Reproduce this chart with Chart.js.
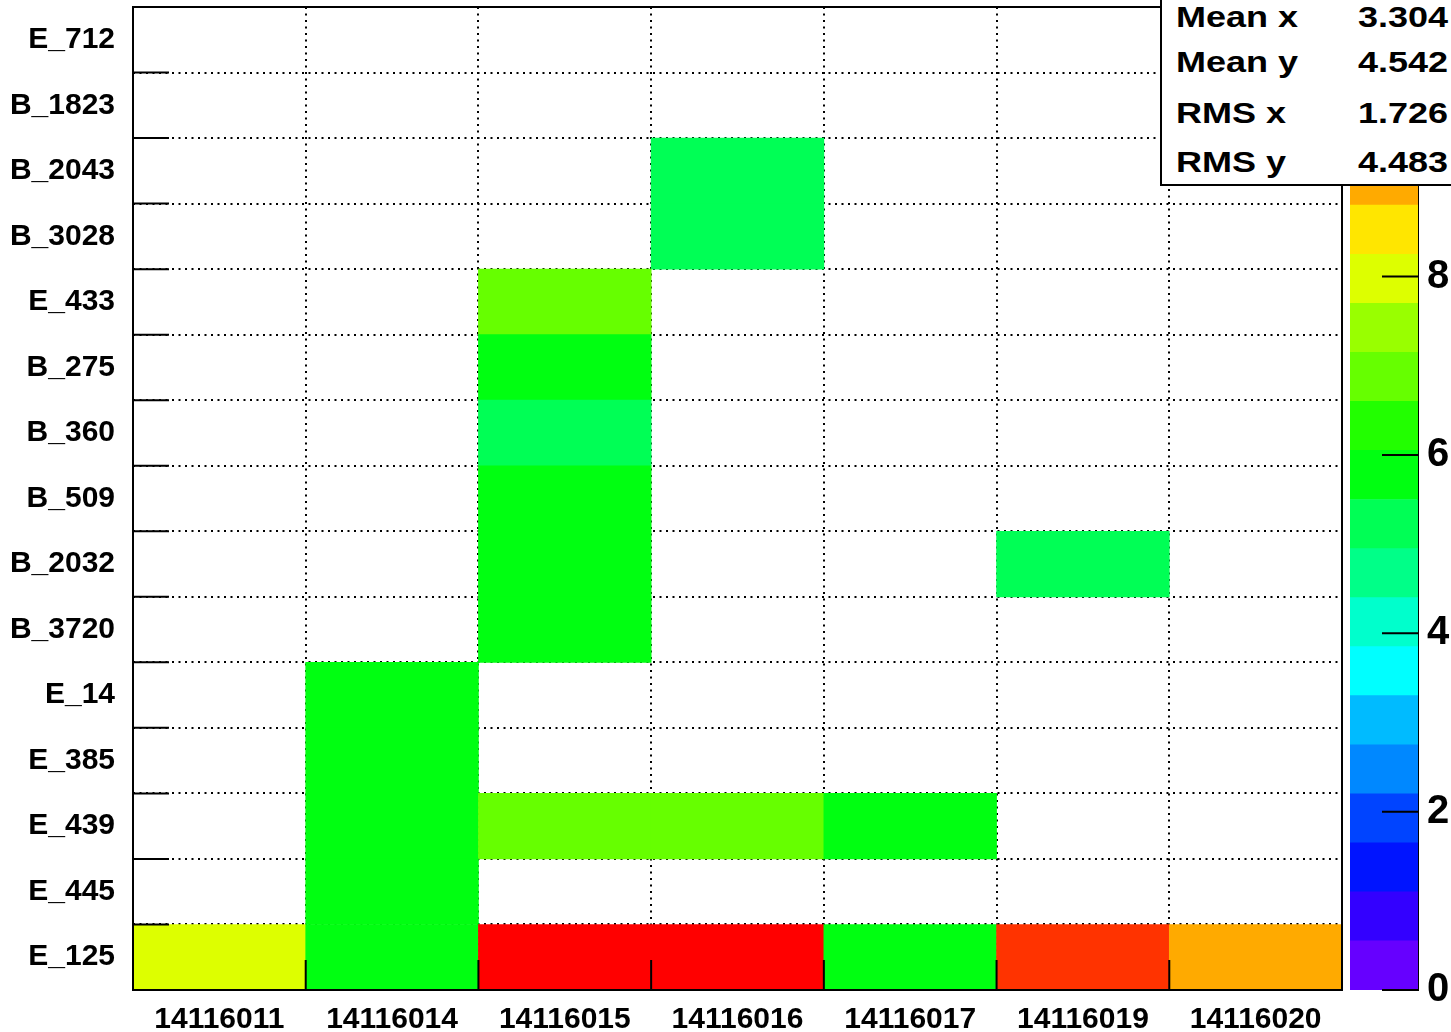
<!DOCTYPE html>
<html><head><meta charset="utf-8">
<script src="https://cdn.jsdelivr.net/npm/chart.js@4/dist/chart.umd.min.js"></script>
<style>
html,body{margin:0;padding:0;background:#fff;overflow:hidden}
#wrap{position:relative;width:1451px;height:1032px;overflow:hidden}
#main{position:absolute;left:0;top:0}
#pal{position:absolute;left:1340px;top:0}
#stats{position:absolute;left:1160px;top:-4px;width:310px;height:190px;border:2px solid #000;background:#fff;box-sizing:border-box;font-family:"Liberation Sans",Arial,Helvetica,sans-serif;font-weight:bold;font-size:30px;line-height:30px;color:#000;z-index:5}
#stats .l{position:absolute;left:14px;transform:scaleX(1.2);transform-origin:left center;white-space:nowrap}
#stats .v{position:absolute;right:20px;transform:scaleX(1.2);transform-origin:right center;white-space:nowrap}
</style></head>
<body><div id="wrap">
<canvas id="main" width="1451" height="1032"></canvas>
<canvas id="pal" width="111" height="1032"></canvas>
<div id="stats"></div>
</div>
<script>
// ---- data ----
const runs = ['14116011','14116014','14116015','14116016','14116017','14116019','14116020'];
// channels from bottom to top
const channels = ['E_125','E_445','E_439','E_385','E_14','B_3720','B_2032','B_509','B_360','B_275','E_433','B_3028','B_2043','B_1823','E_712'];
const cE_125  = [8, 6, 11, 11, 6, 10, 9];
const cE_445  = [0, 6, 0, 0, 0, 0, 0];
const cE_439  = [0, 6, 7, 7, 6, 0, 0];
const cE_385  = [0, 6, 0, 0, 0, 0, 0];
const cE_14   = [0, 6, 0, 0, 0, 0, 0];
const cB_3720 = [0, 0, 6, 0, 0, 0, 0];
const cB_2032 = [0, 0, 6, 0, 0, 5, 0];
const cB_509  = [0, 0, 6, 0, 0, 0, 0];
const cB_360  = [0, 0, 5, 0, 0, 0, 0];
const cB_275  = [0, 0, 6, 0, 0, 0, 0];
const cE_433  = [0, 0, 7, 0, 0, 0, 0];
const cB_3028 = [0, 0, 0, 5, 0, 0, 0];
const cB_2043 = [0, 0, 0, 5, 0, 0, 0];
const cB_1823 = [0, 0, 0, 0, 0, 0, 6];
const cE_712  = [0, 0, 0, 0, 0, 0, 6];
const rowCounts = [cE_125,cE_445,cE_439,cE_385,cE_14,cB_3720,cB_2032,cB_509,cB_360,cB_275,cE_433,cB_3028,cB_2043,cB_1823,cE_712];
const zMax = 11;
const zTicks = [0, 2, 4, 6, 8, 10];
const paletteColors = ['#6600ff','#3300ff','#0014ff','#0044ff','#0088ff','#00bbff','#00ffff','#00ffcc','#00ff88','#00ff55',
                       '#00ff11','#22ff00','#66ff00','#99ff00','#ddff00','#ffe600','#ffaa00','#ff6e00','#ff3300','#ff0000'];
const statNames  = ['Mean x','Mean y','RMS x','RMS y'];
const statValues = ['3.304','4.542','1.726','4.483'];

// ---- helpers ----
const FONT = '"Liberation Sans", Arial, Helvetica, sans-serif';
const nBands = paletteColors.length;
function colorFor(v){ let b = Math.floor(nBands * v / zMax); if (b >= nBands) b = nBands-1; if (b < 0) b = 0; return paletteColors[b]; }
function noPad(s){ s.paddingTop = 0; s.paddingBottom = 0; }

const datasets = rowCounts.map((arr, r) => ({
  label: channels[r],
  counts: arr,
  data: arr.map(v => v > 0 ? [r, r + 1] : null),
  backgroundColor: ctx => colorFor(ctx.dataset.counts[ctx.dataIndex]),
  borderWidth: 0,
  barPercentage: 1,
  categoryPercentage: 1,
  grouped: false,
  xAxisID: 'x',
  yAxisID: 'y'
}));

const framePlugin = {
  id: 'frame',
  afterDraw(chart){
    const ctx = chart.ctx, a = chart.chartArea;
    const xs = chart.scales.x, ys = chart.scales.y;
    ctx.save();
    ctx.strokeStyle = '#000';
    ctx.lineWidth = 2;
    ctx.setLineDash([]);
    ctx.strokeRect(a.left, a.top, a.right - a.left, a.bottom - a.top);
    const step = xs.getPixelForValue(1) - xs.getPixelForValue(0);
    ctx.beginPath();
    for (let i = 0; i <= runs.length; i++) {
      const px = xs.getPixelForValue(0) - step/2 + i*step;
      ctx.moveTo(px, a.bottom); ctx.lineTo(px, a.bottom - 30);
    }
    for (let k = 0; k <= channels.length; k++) {
      const py = ys.getPixelForValue(k);
      ctx.moveTo(a.left, py); ctx.lineTo(a.left + 36, py);
    }
    ctx.stroke();
    ctx.restore();
  }
};

new Chart(document.getElementById('main'), {
  type: 'bar',
  data: { labels: runs, datasets },
  options: {
    responsive: false, animation: false,
    layout: { padding: { top: 7, right: 109, left: 0, bottom: 0 } },
    plugins: { legend: { display: false }, tooltip: { enabled: false } },
    scales: {
      x: {
        type: 'category', offset: true, z: 1,
        grid: { offset: true, color: '#000', lineWidth: 2, drawTicks: false, borderDash: [2, 4.5] },
        border: { display: false, dash: [2, 4.5] },
        ticks: { color: '#000', font: { family: FONT, size: 30, weight: 'bold' }, padding: 12, maxRotation: 0, autoSkip: false },
        afterFit: s => { s.height = 42; s.paddingLeft = 0; s.paddingRight = 0; }
      },
      y: {
        type: 'linear', min: 0, max: channels.length, z: 1,
        ticks: { display: false, stepSize: 1 },
        grid: { color: '#000', lineWidth: 2, drawTicks: false, borderDash: [2, 4.5] },
        border: { display: false, dash: [2, 4.5] },
        afterFit: s => { s.width = 0; noPad(s); }
      },
      yl: {
        type: 'category', position: 'left', offset: true,
        labels: channels.slice().reverse(),
        grid: { display: false, drawTicks: false },
        border: { display: false },
        ticks: { color: '#000', font: { family: FONT, size: 30, weight: 'bold' }, padding: 18, autoSkip: false },
        afterFit: s => { s.width = 133; noPad(s); }
      }
    }
  },
  plugins: [framePlugin]
});

// ---- palette ----
const bandWidth = zMax / nBands;
const palTickPlugin = {
  id: 'paltick',
  afterDraw(chart){
    const ctx = chart.ctx, a = chart.chartArea, ys = chart.scales.y;
    ctx.save(); ctx.strokeStyle = '#000'; ctx.lineWidth = 2; ctx.beginPath();
    zTicks.forEach(t => { const py = ys.getPixelForValue(t); ctx.moveTo(a.right - 36, py); ctx.lineTo(a.right, py); });
    ctx.stroke(); ctx.restore();
  }
};
new Chart(document.getElementById('pal'), {
  type: 'bar',
  data: { labels: ['z'], datasets: paletteColors.map(c => ({ data: [bandWidth], backgroundColor: c, borderWidth: 0, barPercentage: 1, categoryPercentage: 1 })) },
  options: {
    responsive: false, animation: false,
    layout: { padding: { top: 9, left: 10, right: 0, bottom: 42 } },
    plugins: { legend: { display: false }, tooltip: { enabled: false } },
    scales: {
      x: { display: false, stacked: true },
      y: {
        stacked: true, position: 'right', min: 0, max: zMax,
        afterBuildTicks: s => { s.ticks = zTicks.map(v => ({ value: v })); },
        ticks: { color: '#000', font: { family: FONT, size: 40, weight: 'bold' }, padding: 9 },
        grid: { display: false, drawTicks: false },
        border: { display: true, color: '#000', width: 2 },
        afterFit: s => { s.width = 33; noPad(s); }
      }
    }
  },
  plugins: [palTickPlugin]
});

// ---- stats box ----
const st = document.getElementById('stats');
const rowTops = [3.6, 48.6, 99.6, 148.6];
statNames.forEach((n, i) => {
  const l = document.createElement('div'); l.className = 'l'; l.style.top = rowTops[i] + 'px'; l.textContent = n; st.appendChild(l);
  const v = document.createElement('div'); v.className = 'v'; v.style.top = rowTops[i] + 'px'; v.textContent = statValues[i]; st.appendChild(v);
});
</script>
</body></html>
